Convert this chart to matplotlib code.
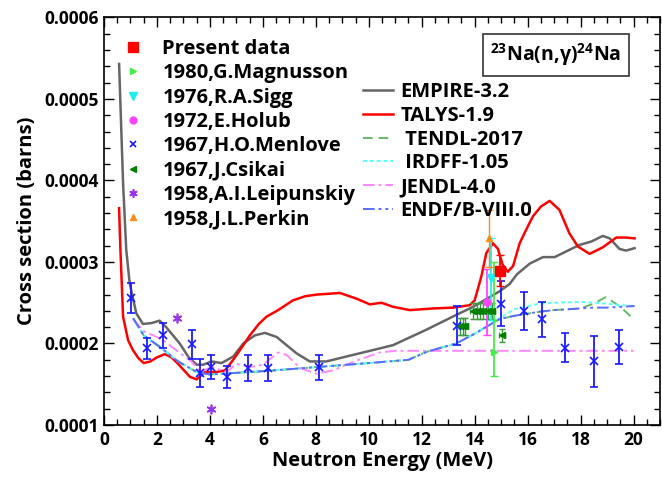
import matplotlib
matplotlib.use("Agg")
import matplotlib.pyplot as plt
from matplotlib.lines import Line2D
from matplotlib.ticker import MultipleLocator, FormatStrFormatter

plt.rcParams['font.family'] = ['Open Sans', 'DejaVu Sans']
plt.rcParams['font.weight'] = 'bold'
plt.rcParams['mathtext.fontset'] = 'custom'
plt.rcParams['mathtext.bf'] = 'Open Sans:bold'
plt.rcParams['mathtext.rm'] = 'Open Sans:bold'

# ---------------- data (cross sections in 1e-4 barns) ----------------
empire_x = [0.57, 0.72, 0.84, 0.97, 1.22, 1.47, 1.79, 2.1, 2.35, 2.86, 3.2, 3.5, 3.75, 4.06, 4.44,
            4.88, 5.26, 5.7, 6.08, 6.52, 7.27, 7.77, 8.4, 9.28, 10.42, 10.92, 12.18, 13.3, 13.94,
            14.57, 14.94, 15.32, 15.6, 16.08, 16.58, 17.02, 17.46, 17.96, 18.4, 18.84, 19.1,
            19.47, 19.72, 20.04]
empire_y = [5.43, 3.97, 3.15, 2.74, 2.37, 2.24, 2.25, 2.28, 2.20, 2.00, 1.83, 1.74, 1.74, 1.78, 1.76,
            1.84, 2.00, 2.10, 2.13, 2.08, 1.88, 1.78, 1.78, 1.85, 1.94, 1.98, 2.17, 2.35, 2.45,
            2.57, 2.64, 2.73, 2.85, 2.98, 3.06, 3.06, 3.13, 3.21, 3.25, 3.32, 3.29,
            3.16, 3.14, 3.17]

talys_x = [0.57, 0.62, 0.72, 0.91, 1.09, 1.3, 1.5, 1.75, 2.0, 2.3, 2.55, 2.8, 3.05, 3.25, 3.5, 3.81,
           4.25, 4.57, 4.88, 5.2, 5.51, 5.85, 6.14, 6.58, 7.14, 7.6, 8.03, 8.91, 9.54, 10.04, 10.48,
           10.92, 11.55, 12.43, 13.18, 13.81, 14.0, 14.25, 14.44, 14.69, 14.88, 15.05, 15.25,
           15.45, 15.7, 15.95, 16.2, 16.5, 16.83, 17.2, 17.58, 17.9, 18.34, 18.84, 19.35, 19.72,
           20.04]
talys_y = [3.66, 3.15, 2.33, 2.04, 1.92, 1.82, 1.76, 1.78, 1.83, 1.87, 1.83, 1.75, 1.66, 1.59, 1.56,
           1.65, 1.65, 1.67, 1.80, 1.95, 2.10, 2.24, 2.33, 2.41, 2.53, 2.58, 2.60, 2.62, 2.55, 2.48,
           2.50, 2.45, 2.41, 2.43, 2.44, 2.47, 2.53, 2.82, 3.11, 3.23, 3.16, 2.97, 2.88, 2.95,
           3.23, 3.40, 3.56, 3.68, 3.75, 3.64, 3.35, 3.19, 3.10, 3.18, 3.30, 3.30, 3.29]

eval_x = [1.1, 1.5, 2.1, 2.8, 3.5, 4.0, 5.0, 6.0, 8.0, 10.0, 11.5, 12.2, 13.3, 14.0, 14.94,
          15.5, 16.45, 17.0, 18.0, 18.5, 18.96, 19.5, 20.04]
endf_y = [2.31, 2.10, 1.96, 1.78, 1.65, 1.62, 1.64, 1.66, 1.71, 1.76, 1.80, 1.90, 2.00, 2.12, 2.30,
          2.34, 2.39, 2.41, 2.43, 2.44, 2.44, 2.45, 2.46]
irdff_y = [2.31, 2.10, 1.96, 1.78, 1.65, 1.62, 1.64, 1.66, 1.71, 1.76, 1.80, 1.90, 2.00, 2.12, 2.31,
           2.42, 2.49, 2.50, 2.51, 2.50, 2.49, 2.47, 2.46]
tendl_y = [2.31, 2.10, 1.96, 1.78, 1.65, 1.62, 1.64, 1.66, 1.71, 1.76, 1.80, 1.90, 2.00, 2.12, 2.30,
           2.34, 2.39, 2.41, 2.43, 2.49, 2.57, 2.45, 2.29]

jendl_x = [1.1, 1.5, 2.2, 2.8, 3.3, 3.62, 4.1, 4.63, 5.0, 5.5, 6.0, 6.58, 6.9, 7.4, 8.03, 8.65,
           9.53, 10.42, 11.0, 14.0, 20.0]
jendl_y = [2.30, 2.15, 2.05, 1.90, 1.78, 1.66, 1.71, 1.65, 1.75, 1.71, 1.74, 1.89, 1.86, 1.70, 1.63,
           1.67, 1.79, 1.89, 1.91, 1.91, 1.91]

# experimental data (values in 1e-4 b)
present_x, present_y, present_err = [14.97], [2.89], [0.19]
magnusson_x, magnusson_y, magnusson_lo, magnusson_hi = [14.73], [1.90], [0.30], [1.10]
sigg_x, sigg_y, sigg_lo, sigg_hi = [14.63], [2.80], [0.51], [0.50]
holub_x, holub_y, holub_err = [14.46], [2.51], [0.40]
menlove_x = [1.03, 1.62, 2.23, 3.32, 3.62, 4.06, 4.65, 5.45, 6.2, 8.11, 13.33, 14.98, 15.86,
             16.55, 17.4, 18.49, 19.45]
menlove_y = [2.555, 1.94, 2.10, 1.99, 1.64, 1.71, 1.59, 1.70, 1.70, 1.71, 2.22, 2.49, 2.40,
             2.30, 1.95, 1.78, 1.96]
menlove_err = [0.185, 0.13, 0.15, 0.18, 0.17, 0.145, 0.13, 0.16, 0.16, 0.155, 0.235, 0.275, 0.235,
               0.215, 0.18, 0.315, 0.21]
csikai_x = [13.45, 13.55, 13.65, 13.94, 14.07, 14.2, 14.33, 14.5, 14.65, 15.03]
csikai_y = [2.21, 2.21, 2.21, 2.40, 2.40, 2.40, 2.40, 2.40, 2.40, 2.10]
csikai_err = [0.10, 0.10, 0.10, 0.10, 0.10, 0.10, 0.10, 0.10, 0.10, 0.08]
csikai_xerr = [0.1, 0.1, 0.1, 0.1, 0.1, 0.1, 0.1, 0.1, 0.1, 0.1]
leip_x, leip_y = [2.75, 4.06], [2.31, 1.20]
perkin_x, perkin_y, perkin_err = [14.53], [3.29], [0.35]

S = 1e-4
sc = lambda v: [a * S for a in v]

fig = plt.figure(figsize=(6.62, 4.8), dpi=100)
ax = fig.add_axes([104 / 662, 1 - 425 / 480, 556 / 662, 407.5 / 480])

l_emp, = ax.plot(empire_x, sc(empire_y), color='#666666', lw=1.8)
l_tal, = ax.plot(talys_x, sc(talys_y), color='#ff0000', lw=1.8)
l_ten, = ax.plot(eval_x, sc(tendl_y), color='#66bb66', lw=1.4, ls=(0, (5, 3)))
l_ird, = ax.plot(eval_x, sc(irdff_y), color='#55ffff', lw=1.4, ls=(0, (2, 1.5)))
l_jen, = ax.plot(jendl_x, sc(jendl_y), color='#ff88ff', lw=1.4, ls=(0, (6, 2, 1.5, 2)))
l_end, = ax.plot(eval_x, sc(endf_y), color='#5c6cff', lw=1.4, ls=(0, (6, 2, 1.5, 2, 1.5, 2)))

ax.errorbar(menlove_x, sc(menlove_y), yerr=sc(menlove_err), fmt='x', color='#1a1aff', ms=6,
            capsize=3, elinewidth=1.3, mew=1.2)
ax.errorbar(csikai_x, sc(csikai_y), yerr=sc(csikai_err), xerr=csikai_xerr, fmt='<', color='#008000',
            ms=5, capsize=2.5, elinewidth=1, ecolor='#3d9a3d')
ax.errorbar(holub_x, sc(holub_y), yerr=sc(holub_err), fmt='o', color='#ff44ff', ms=5, capsize=3,
            elinewidth=1.3)
ax.errorbar(sigg_x, sc(sigg_y), yerr=[sc(sigg_lo), sc(sigg_hi)], fmt='v', color='#22eeee', ms=6,
            capsize=3, elinewidth=1.3)
ax.errorbar(magnusson_x, sc(magnusson_y), yerr=[sc(magnusson_lo), sc(magnusson_hi)], fmt='>',
            color='#44ee44', ms=5, capsize=3, elinewidth=1.3)
ax.errorbar(perkin_x, sc(perkin_y), yerr=sc(perkin_err), fmt='^', color='#ff8c1a', ms=5,
            capsize=3, elinewidth=1)
ax.errorbar(present_x, sc(present_y), yerr=sc(present_err), fmt='s', color='#ff0000', ms=7,
            capsize=3, elinewidth=1.3)
ax.plot(leip_x, sc(leip_y), ls='none', marker=(6, 2, 0), color='#9933ee', ms=7, mew=1.2)

ax.set_xlim(0, 21)
ax.set_ylim(0.0001, 0.0006)
ax.xaxis.set_major_locator(MultipleLocator(2))
ax.xaxis.set_minor_locator(MultipleLocator(0.5))
ax.yaxis.set_major_locator(MultipleLocator(0.0001))
ax.yaxis.set_minor_locator(MultipleLocator(0.00002))
ax.yaxis.set_major_formatter(FormatStrFormatter('%.4f'))
ax.tick_params(which='both', direction='in', top=True, right=True, labelsize=12.5, width=1)
ax.tick_params(which='major', length=7, pad=4)
ax.tick_params(which='minor', length=4)
for lab in ax.get_xticklabels() + ax.get_yticklabels():
    lab.set_fontweight('bold')
for sp in ax.spines.values():
    sp.set_linewidth(1.2)
ax.set_xlabel('Neutron Energy (MeV)', fontsize=14.5, fontweight='bold', labelpad=2)
ax.set_ylabel('Cross section (barns)', fontsize=14.5, fontweight='bold', labelpad=5)

# legend with experimental markers
mk = [Line2D([], [], ls='none', marker='s', color='#ff0000', ms=7),
      Line2D([], [], ls='none', marker='>', color='#44ee44', ms=5),
      Line2D([], [], ls='none', marker='v', color='#22eeee', ms=6),
      Line2D([], [], ls='none', marker='o', color='#ff44ff', ms=5),
      Line2D([], [], ls='none', marker='x', color='#1a1aff', ms=5, mew=1.2),
      Line2D([], [], ls='none', marker='<', color='#008000', ms=5),
      Line2D([], [], ls='none', marker=(6, 2, 0), color='#9933ee', ms=6, mew=1.2),
      Line2D([], [], ls='none', marker='^', color='#ff8c1a', ms=5)]
mk_labels = ['Present data', '1980,G.Magnusson', '1976,R.A.Sigg', '1972,E.Holub',
             '1967,H.O.Menlove', '1967,J.Csikai', '1958,A.I.Leipunskiy', '1958,J.L.Perkin']
leg1 = fig.legend(mk, mk_labels, loc='upper left', bbox_to_anchor=(123 / 662, 1 - 39 / 480),
                  frameon=False, prop={'size': 14.5, 'weight': 'bold'}, handlelength=1.0,
                  handletextpad=0.95, labelspacing=0.215, borderpad=0, borderaxespad=0)

ln_labels = ['EMPIRE-3.2', 'TALYS-1.9', ' TENDL-2017', ' IRDFF-1.05', 'JENDL-4.0', 'ENDF/B-VIII.0']
leg2 = fig.legend([l_emp, l_tal, l_ten, l_ird, l_jen, l_end], ln_labels, loc='upper left',
                  bbox_to_anchor=(363 / 662, 1 - 82 / 480), frameon=False,
                  prop={'size': 14.5, 'weight': 'bold'}, handlelength=1.5, handletextpad=0.35,
                  labelspacing=0.19, borderpad=0, borderaxespad=0)

fig.text(556 / 662, 1 - 55 / 480, r'$^{\mathbf{23}}$Na(n,γ)$^{\mathbf{24}}$Na', fontsize=14,
         fontweight='bold', ha='center', va='center',
         bbox=dict(boxstyle='square,pad=0.38', fc='white', ec='#333333', lw=1.2))

fig.savefig('out.png', dpi=100)
